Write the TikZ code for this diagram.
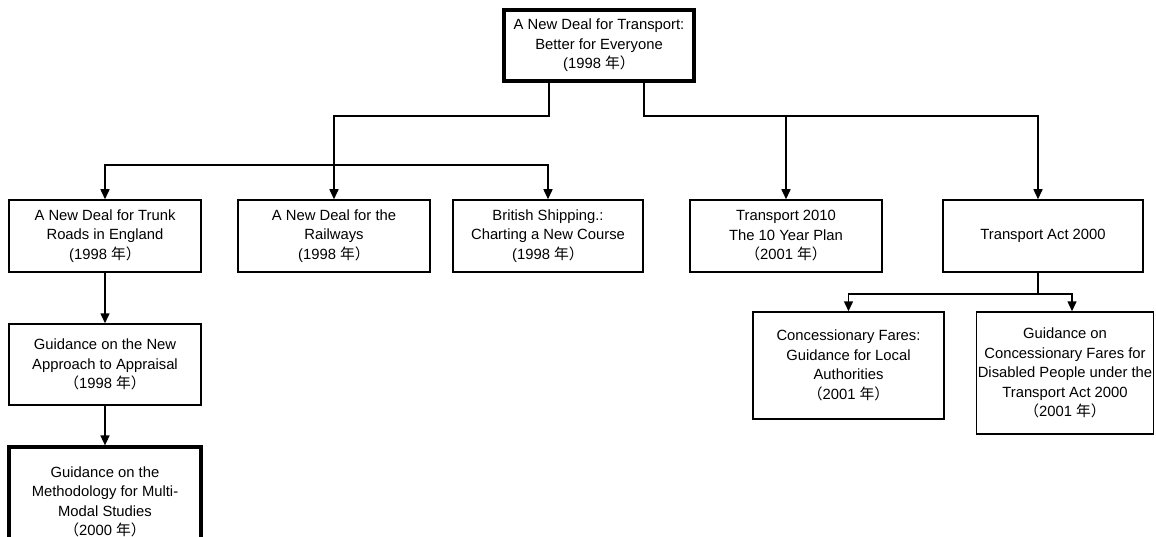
\documentclass[tikz,border=0pt]{standalone}
\usepackage{fontspec}
\setmainfont{Liberation Sans}
\newfontfamily\cjk{Noto Sans CJK SC}
\usepackage{tikz}
\usetikzlibrary{arrows.meta}

\begin{document}
\begin{tikzpicture}[x=1pt, y=-1pt,
box/.style={draw, line width=1.5pt, align=center, inner sep=2pt, minimum width=191pt, minimum height=72pt, font=\fontsize{14.8}{19.5}\selectfont},
heavy/.style={box, line width=3.2pt},
link/.style={line width=1.5pt, -{Triangle[width=9pt,length=10pt]}},
twoway/.style={line width=1.5pt, {Triangle[width=9pt,length=10pt]}-{Triangle[width=9pt,length=10pt]}}]
\useasboundingbox (0,0) rectangle (1156,537);
\clip (0,0) rectangle (1156,537);
\node[heavy, minimum width=190pt, minimum height=71pt] (deal) at (599,45.5) {A New Deal for Transport:\\Better for Everyone\\(1998 {\cjk 年）}};
\node[box, minimum width=192pt] (trunk) at (105,236) {A New Deal for Trunk\\Roads in England\\(1998 {\cjk 年）}};
\node[box, minimum width=192pt] (rail) at (334,236) {A New Deal for the\\Railways\\(1998 {\cjk 年）}};
\node[box, minimum width=190pt] (ship) at (548,236) {British Shipping.:\\Charting a New Course\\(1998 {\cjk 年）}};
\node[box, minimum width=192pt] (plan) at (786,236) {Transport 2010\\The 10 Year Plan\\{\cjk （}2001 {\cjk 年）}};
\node[box, minimum width=200pt] (act) at (1043,236) {Transport Act 2000};
\node[box, minimum width=192pt, minimum height=81pt] (approach) at (105,364.5) {Guidance on the New\\Approach to Appraisal\\{\cjk （}1998 {\cjk 年）}};
\node[heavy, minimum width=192pt, minimum height=110pt] (method) at (105,502) {Guidance on the\\Methodology for Multi-\\Modal Studies\\{\cjk （}2000 {\cjk 年）}};
\node[box, minimum height=107pt] (fares) at (848.5,365.5) {Concessionary Fares:\\Guidance for Local\\Authorities\\{\cjk （}2001 {\cjk 年）}};
\node[box, inner sep=0pt, minimum width=177pt, minimum height=122pt] (disabled) at (1065,373) {Guidance on\\Concessionary Fares for\\Disabled People under the\\Transport Act 2000\\{\cjk （}2001 {\cjk 年）}};
\coordinate (upper) at (0,116);
\coordinate (lower) at (0,165);
\coordinate (actbar) at (0,294);
\draw[link] ([xshift=-50pt]deal.south) |- (rail.north |- upper) -- (rail.north);
\draw[twoway] (trunk.north) -- (trunk.north |- lower) -- (ship.north |- lower) -- (ship.north);
\draw[link] ([xshift=45pt]deal.south) |- ([xshift=-5pt]act.north |- upper) -- ([xshift=-5pt]act.north);
\draw[link] (plan.north |- upper) -- (plan.north);
\draw[link] (trunk) -- (approach);
\draw[link] (approach) -- (method);
\draw[line width=1.5pt] ([xshift=-5pt]act.south) -- ([xshift=-5pt]act.south |- actbar);
\draw[twoway] (fares.north) -- (fares.north |- actbar) -- ([xshift=7pt]disabled.north |- actbar) -- ([xshift=7pt]disabled.north);
\end{tikzpicture}
\end{document}
